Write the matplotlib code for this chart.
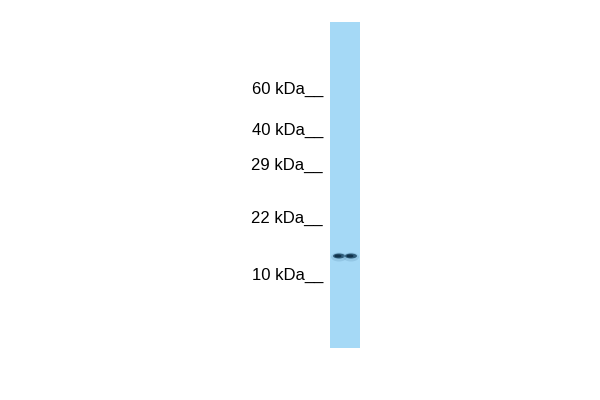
import matplotlib
matplotlib.use("Agg")
import matplotlib.pyplot as plt
from matplotlib.patches import Rectangle, Ellipse

# marker ladder (label, pixel row in the image)
marker_labels = ["60 kDa", "40 kDa", "29 kDa", "22 kDa", "10 kDa"]
marker_rows = [89, 130, 165, 218, 275]

# detected band: row and two lobes across the lane
band_row = 256
band_lobes = [339, 351]

fig = plt.figure(figsize=(6, 4), dpi=100)
ax = fig.add_axes([0, 0, 1, 1])
ax.set_xlim(0, 600)
ax.set_ylim(400, 0)
ax.axis("off")

# lane
ax.add_patch(Rectangle((330, 22), 30, 326, facecolor="#a5d9f6", edgecolor="none"))

# band, soft halo then dark core
for x in band_lobes:
    ax.add_patch(Ellipse((x, band_row + 1), 16, 9, facecolor="#6b9fc0", alpha=0.3, edgecolor="none"))
    ax.add_patch(Ellipse((x, band_row), 12, 5, facecolor="#1e4a66", alpha=0.85, edgecolor="none"))
    ax.add_patch(Ellipse((x - 1, band_row), 7, 3, facecolor="#10324a", edgecolor="none"))

for lab, y in zip(marker_labels, marker_rows):
    ax.text(323, y, lab + "__", ha="right", va="center", fontsize=12,
            family="Liberation Sans", color="black")

fig.savefig("out.png", dpi=100)
